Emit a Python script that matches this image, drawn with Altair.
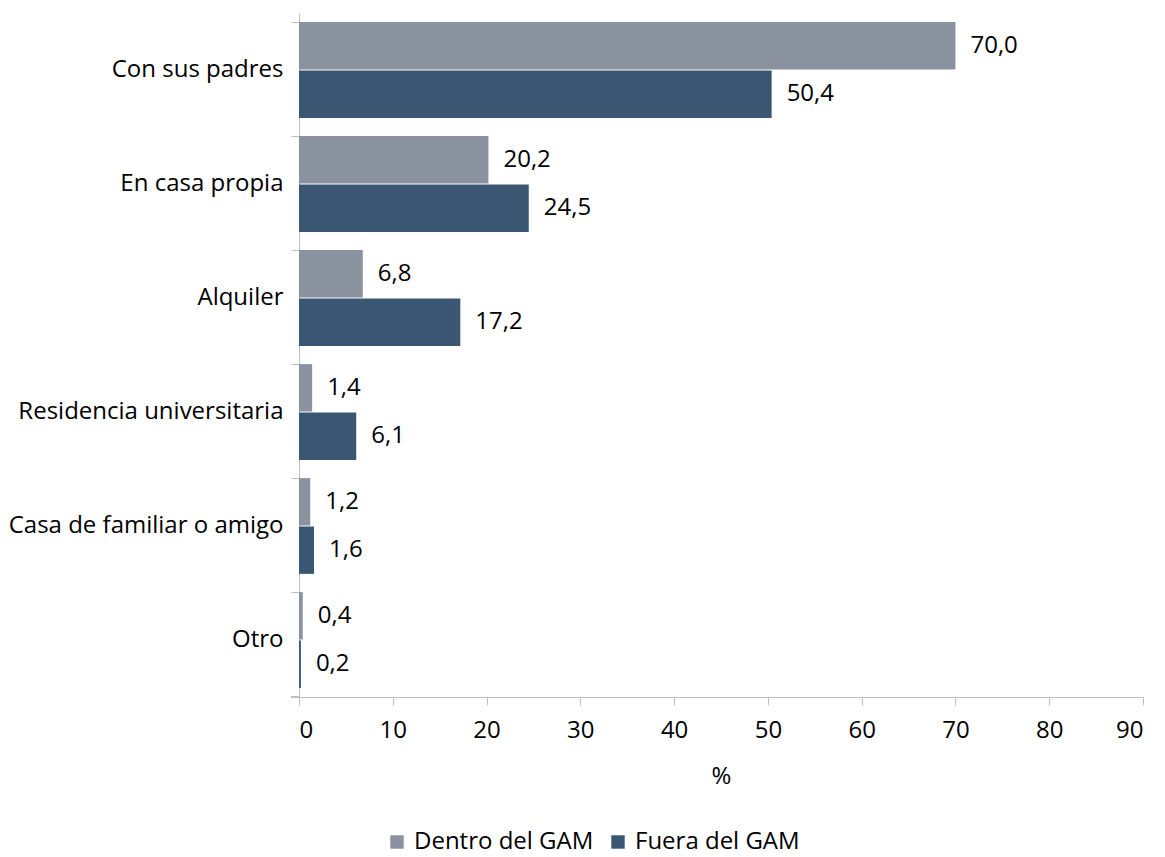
import altair as alt
import pandas as pd

categories = ["Con sus padres", "En casa propia", "Alquiler", "Residencia universitaria",
              "Casa de familiar o amigo", "Otro"]
series = ["Dentro del GAM", "Fuera del GAM"]
dentro = [70.0, 20.2, 6.8, 1.4, 1.2, 0.4]
fuera = [50.4, 24.5, 17.2, 6.1, 1.6, 0.2]
x_ticks = [0, 10, 20, 30, 40, 50, 60, 70, 80, 90]

rows = []
for c, a, b in zip(categories, dentro, fuera):
    rows.append({"cat": c, "serie": series[0], "value": a})
    rows.append({"cat": c, "serie": series[1], "value": b})
df = pd.DataFrame(rows)

FONT = "Open Sans"
FS = 24
W, H = 844, 684

base = alt.Chart(df).encode(
    y=alt.Y("cat:N", sort=categories,
            scale=alt.Scale(paddingInner=0.16, paddingOuter=0.08),
            axis=alt.Axis(title=None, bandPosition=0, labelFontSize=FS, labelFont=FONT,
                          labelColor="#000000", labelPadding=8, tickSize=8,
                          tickColor="#bfbfbf", domainColor="#bfbfbf", labelLimit=400)),
    yOffset=alt.YOffset("serie:N", sort=series, scale=alt.Scale(paddingInner=0.02)),
)

bars = base.mark_bar().encode(
    x=alt.X("value:Q", scale=alt.Scale(domain=[0, 90], nice=False),
            axis=alt.Axis(values=x_ticks, title="%", titleFontSize=FS, titleFont=FONT,
                          titleFontWeight="normal", titleColor="#000000", titlePadding=22,
                          labelFontSize=FS, labelFont=FONT, labelColor="#000000",
                          labelPadding=13, tickSize=8, tickColor="#bfbfbf",
                          domainColor="#bfbfbf", grid=False)),
    color=alt.Color("serie:N", sort=series,
                    scale=alt.Scale(domain=series, range=["#8a92a0", "#3a5673"]),
                    legend=alt.Legend(title=None, orient="none", direction="horizontal",
                                      legendX=86, legendY=817, symbolType="square",
                                      symbolSize=180, symbolStrokeWidth=0,
                                      labelFontSize=FS, labelFont=FONT, labelColor="#000000",
                                      labelLimit=400, columnPadding=12, labelOffset=5)),
)

labels = base.mark_text(align="left", baseline="middle", dx=15, fontSize=FS,
                        font=FONT, color="#000000").transform_calculate(
    lab="replace(format(datum.value, '.1f'), '.', ',')"
).encode(x="value:Q", text="lab:N")

bottom_tick = alt.Chart(df).mark_rule(color="#bfbfbf").encode(
    x=alt.value(-8), x2=alt.value(0), y=alt.value(H))

chart = alt.layer(bars, labels, bottom_tick).properties(
    width=W, height=H,
    padding={"left": 291, "top": 5, "right": 14, "bottom": 160},
    autosize=alt.AutoSizeParams(type="none"),
).configure(font=FONT).configure_view(stroke=None)

chart.save("out.html", embed_options={"renderer": "svg", "actions": False})
